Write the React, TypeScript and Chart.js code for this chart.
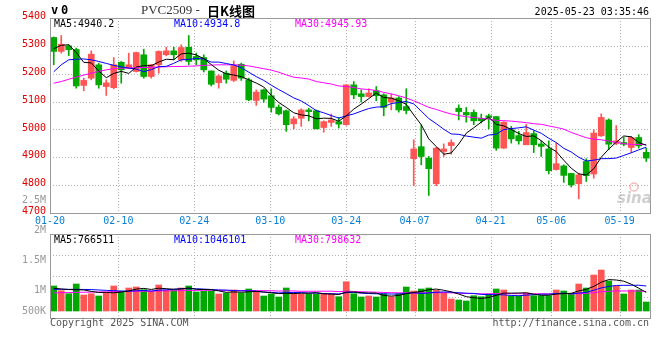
import { useEffect, useRef } from 'react';
import { Chart, registerables } from 'chart.js';

Chart.register(...registerables);

// ---------------- data ----------------
const dates = [
  '01-20','01-21','01-22','01-23','01-24','01-27','02-05','02-06','02-07','02-10',
  '02-11','02-12','02-13','02-14','02-17','02-18','02-19','02-20','02-21','02-24',
  '02-25','02-26','02-27','02-28','03-03','03-04','03-05','03-06','03-07','03-10',
  '03-11','03-12','03-13','03-14','03-17','03-18','03-19','03-20','03-21','03-24',
  '03-25','03-26','03-27','03-28','03-31','04-01','04-02','04-03','04-07','04-08',
  '04-09','04-10','04-11','04-14','04-15','04-16','04-17','04-18','04-21','04-22',
  '04-23','04-24','04-25','04-28','04-29','04-30','05-06','05-07','05-08','05-09',
  '05-12','05-13','05-14','05-15','05-16','05-19','05-20','05-21','05-22','05-23',
];

const opens = [
  5330, 5280, 5300, 5287, 5158, 5184, 5232, 5154, 5150, 5241,
  5220, 5208, 5268, 5190, 5232, 5268, 5282, 5250, 5295, 5262,
  5258, 5210, 5168, 5202, 5176, 5234, 5178, 5104, 5142, 5121,
  5080, 5067, 5020, 5040, 5070, 5067, 5007, 5025, 5028, 5017,
  5160, 5128, 5118, 5139, 5124, 5098, 5113, 5082, 4895, 4938,
  4897, 4805, 4921, 4942, 5076, 5061, 5061, 5040, 5049, 5046,
  4933, 4999, 4978, 4945, 4985, 4948, 4930, 4856, 4869, 4842,
  4805, 4885, 4840, 4977, 5034, 4950, 4953, 4935, 4971, 4918,
];
const highs = [
  5332, 5337, 5304, 5292, 5184, 5282, 5238, 5178, 5258, 5244,
  5274, 5278, 5288, 5234, 5282, 5295, 5295, 5304, 5337, 5274,
  5268, 5210, 5196, 5210, 5246, 5238, 5184, 5142, 5145, 5146,
  5088, 5070, 5046, 5074, 5076, 5070, 5031, 5055, 5043, 5160,
  5172, 5142, 5146, 5154, 5128, 5127, 5118, 5146, 4963, 5017,
  4903, 4936, 4948, 4963, 5088, 5079, 5070, 5055, 5055, 5046,
  5028, 5011, 4993, 5019, 4995, 4959, 4959, 4951, 4873, 4843,
  4843, 4895, 4999, 5056, 5038, 5014, 4972, 4975, 4981, 4933,
];
const lows = [
  5232, 5274, 5265, 5148, 5139, 5178, 5148, 5122, 5146, 5166,
  5218, 5206, 5184, 5184, 5202, 5264, 5250, 5244, 5232, 5232,
  5206, 5156, 5148, 5166, 5172, 5176, 5103, 5086, 5098, 5062,
  5052, 4993, 5002, 5011, 5031, 5002, 4990, 5011, 5005, 5015,
  5110, 5098, 5116, 5103, 5049, 5070, 5062, 5056, 4798, 4873,
  4763, 4798, 4903, 4911, 5034, 5026, 5017, 5023, 5002, 4925,
  4931, 4951, 4947, 4945, 4917, 4903, 4840, 4854, 4810, 4793,
  4751, 4813, 4825, 4975, 4927, 4945, 4941, 4917, 4933, 4885,
];
const closes = [
  5280, 5306, 5286, 5156, 5176, 5270, 5160, 5167, 5232, 5214,
  5232, 5276, 5190, 5232, 5280, 5282, 5268, 5294, 5244, 5250,
  5214, 5162, 5192, 5180, 5229, 5184, 5106, 5134, 5109, 5079,
  5056, 5017, 5038, 5070, 5064, 5002, 5028, 5034, 5019, 5160,
  5124, 5118, 5131, 5121, 5079, 5113, 5070, 5068, 4930, 4903,
  4859, 4933, 4930, 4953, 5064, 5052, 5031, 5031, 5043, 4933,
  5026, 4966, 4959, 4989, 4945, 4939, 4852, 4877, 4835, 4801,
  4837, 4834, 4987, 5043, 4947, 4959, 4947, 4971, 4941, 4897,
];
const volumes = [
  1025000, 832000, 709000, 1107000, 656000, 709000, 615000, 726000, 1025000, 808000,
  943000, 984000, 873000, 808000, 1066000, 849000, 849000, 943000, 1025000, 779000,
  808000, 808000, 697000, 738000, 861000, 738000, 902000, 779000, 615000, 697000,
  574000, 943000, 738000, 697000, 697000, 697000, 697000, 697000, 586000, 1201000,
  709000, 574000, 615000, 574000, 709000, 586000, 709000, 984000, 820000, 902000,
  943000, 849000, 738000, 492000, 451000, 410000, 627000, 586000, 697000, 902000,
  861000, 615000, 615000, 738000, 627000, 627000, 627000, 861000, 820000, 697000,
  1107000, 943000, 1476000, 1681000, 1230000, 1025000, 697000, 861000, 861000, 369000,
];

// moving-average values before enough visible bars exist
const ma5Lead = [5290, 5302, 5304, 5276];
const ma10Lead = [5207, 5232, 5250, 5252, 5253, 5250, 5244, 5237, 5230];
const ma30Lead = [
  5166, 5172, 5180, 5188, 5195, 5202, 5208, 5214, 5218, 5220,
  5221, 5222, 5222, 5223, 5224, 5225, 5226, 5226, 5227, 5228,
  5230, 5231, 5232, 5232, 5232, 5231, 5228, 5223, 5218,
];
const vol5Lead = [930000, 905000, 880000, 868000];
const vol10Lead = [890000, 890000, 888000, 886000, 884000, 878000, 862000, 846000, 832000];
const vol30Lead = [
  740000, 750000, 756000, 764000, 770000, 776000, 781000, 786000, 791000, 796000,
  801000, 806000, 811000, 816000, 821000, 826000, 830000, 835000, 840000, 845000,
  849000, 851000, 849000, 846000, 843000, 840000, 838000, 836000, 834000,
];

const priceTicks = [5400, 5300, 5200, 5100, 5000, 4900, 4800, 4700];
const dateTickLabels = ['01-20', '02-10', '02-24', '03-10', '03-24', '04-07', '04-21', '05-06', '05-19'];
const volTickLabels = ['2.5M', '2M', '1.5M', '1M', '500K'];
const volTickValues = [2500000, 2000000, 1500000, 1000000, 500000];
const priceLegend = ['MA5:4940.2', 'MA10:4934.8', 'MA30:4945.93'];
const volLegend = ['MA5:766511', 'MA10:1046101', 'MA30:798632'];
const titleCode = 'PVC2509 - ';
const titleName = '日K线图';
const stampText = '2025-05-23 03:35:46';
const copyrightText = 'Copyright 2025 SINA.COM';
const urlText = 'http://finance.sina.com.cn';

// ---------------- styles / layout ----------------
const UP = '#ff5555';
const DOWN = '#00a800';
const C_MA5 = '#000000';
const C_MA10 = '#0000ff';
const C_MA30 = '#ff00ff';
const GRID = '#b0b0b0';
const FRAME = '#999999';
const MONO = '10px "DejaVu Sans Mono", "Liberation Mono", monospace';

const PX = { left: 50, right: 650, top: 18, priceBottom: 213, volTop: 234, bottom: 318, volBase: 311 };
const PRICE_MIN = 4700;
const PRICE_MAX = 5400;
const VOL_PER_PX = 41000;
const VOL_LABEL_PER_PX = 1000000 / 60; // label axis
const VOL_LABEL_1M_PX = 290.7;

const N = dates.length;

function movingAvg(values: number[], period: number, lead: number[]) {
  return values.map((_, i) => {
    if (i < period - 1) return lead[i];
    let s = 0;
    for (let k = i - period + 1; k <= i; k++) s += values[k];
    return s / period;
  });
}

const ma5 = movingAvg(closes, 5, ma5Lead);
const ma10 = movingAvg(closes, 10, ma10Lead);
const ma30 = movingAvg(closes, 30, ma30Lead);
const vma5 = movingAvg(volumes, 5, vol5Lead);
const vma10 = movingAvg(volumes, 10, vol10Lead);
const vma30 = movingAvg(volumes, 30, vol30Lead);

const isUp = closes.map((c, i) => c >= opens[i]);
const candleColors = isUp.map((u) => (u ? UP : DOWN));

// grid columns are spaced over N-1 intervals of the plot width
const gridValue = (i: number) => (i * N) / (N - 1) - 0.5;

function hline(ctx: any, x1: number, x2: number, y: number) {
  ctx.beginPath();
  ctx.moveTo(x1, y);
  ctx.lineTo(x2, y);
  ctx.stroke();
}
function vline(ctx: any, x: number, y1: number, y2: number) {
  ctx.beginPath();
  ctx.moveTo(x, y1);
  ctx.lineTo(x, y2);
  ctx.stroke();
}

const layoutPlugin = {
  id: 'sinaLayout',
  beforeDatasetsDraw(chart: any) {
    const { ctx } = chart;
    const xs = chart.scales.x;
    const ys = chart.scales.y;
    const top = ys.getPixelForValue(PRICE_MAX);
    const pb = ys.getPixelForValue(PRICE_MIN);
    ctx.save();
    ctx.strokeStyle = GRID;
    ctx.lineWidth = 1;
    ctx.setLineDash([1, 2]);
    priceTicks.slice(1, -1).forEach((p) => {
      const y = Math.round(ys.getPixelForValue(p)) + 0.5;
      hline(ctx, PX.left, PX.right, y);
    });
    dateTickLabels.forEach((d) => {
      const i = dates.indexOf(d);
      if (i <= 0) return;
      const x = Math.round(xs.getPixelForValue(gridValue(i))) + 0.5;
      vline(ctx, x, top, pb);
      vline(ctx, x, PX.volTop, PX.bottom);
    });
    for (let k = 1; k < 4; k++) {
      const y = Math.round(PX.volTop + ((PX.bottom - PX.volTop) * k) / 4) + 0.5;
      hline(ctx, PX.left, PX.right, y);
    }
    ctx.restore();
  },
  afterDatasetsDraw(chart: any) {
    const { ctx } = chart;
    const xs = chart.scales.x;
    const ys = chart.scales.y;
    const yl = chart.scales.yl;
    const top = ys.getPixelForValue(PRICE_MAX);
    const pb = ys.getPixelForValue(PRICE_MIN);
    ctx.save();
    // frames
    ctx.strokeStyle = FRAME;
    ctx.lineWidth = 1;
    ctx.setLineDash([]);
    ctx.strokeRect(PX.left + 0.5, Math.round(top) + 0.5, PX.right - PX.left, Math.round(pb - top));
    ctx.strokeRect(PX.left + 0.5, PX.volTop + 0.5, PX.right - PX.left, PX.bottom - PX.volTop);

    ctx.font = MONO;
    ctx.textBaseline = 'middle';

    // price labels
    ctx.fillStyle = '#e00000';
    ctx.textAlign = 'right';
    priceTicks.forEach((p) => {
      ctx.fillText(String(p), 46, ys.getPixelForValue(p) - 1.5);
    });
    // volume labels
    ctx.fillStyle = '#999999';
    volTickValues.forEach((v, k) => {
      const y = Math.min(yl.getPixelForValue(v), PX.volBase);
      ctx.fillText(volTickLabels[k], 46, y);
    });
    // date labels
    ctx.fillStyle = '#0a7fd6';
    ctx.textAlign = 'center';
    dateTickLabels.forEach((d) => {
      const i = dates.indexOf(d);
      ctx.fillText(d, xs.getPixelForValue(gridValue(i)), pb + 8.5);
    });

    // legends
    ctx.textAlign = 'left';
    const legendX = [54, 174, 295];
    const legendC = [C_MA5, C_MA10, C_MA30];
    priceLegend.forEach((t, k) => {
      ctx.fillStyle = legendC[k];
      ctx.fillText(t, legendX[k], top + 6);
    });
    volLegend.forEach((t, k) => {
      ctx.fillStyle = legendC[k];
      ctx.fillText(t, legendX[k], PX.volTop + 6);
    });

    // header
    ctx.fillStyle = '#000';
    ctx.font = 'bold 12px "DejaVu Sans Mono", monospace';
    ctx.fillText('v', 51, 11);
    ctx.fillText('0', 61, 11);
    ctx.font = '13px "Liberation Serif", serif';
    ctx.fillStyle = '#333';
    ctx.fillText(titleCode, 141, 11);
    const w = ctx.measureText(titleCode).width;
    ctx.font = 'bold 13px "Noto Sans CJK SC", sans-serif';
    ctx.fillStyle = '#000';
    ctx.fillText(titleName, 141 + w + 4, 11);
    ctx.font = MONO;
    ctx.textAlign = 'right';
    ctx.fillText(stampText, 649, 12);

    // footer
    ctx.fillStyle = '#555';
    ctx.textAlign = 'left';
    ctx.fillText(copyrightText, 50, 323);
    ctx.textAlign = 'right';
    ctx.fillText(urlText, 649, 323);

    // watermark
    ctx.textAlign = 'left';
    ctx.fillStyle = 'rgba(175,175,175,0.6)';
    ctx.font = 'italic bold 15px "DejaVu Sans", sans-serif';
    ctx.fillText('sina', 617, 199);
    ctx.strokeStyle = 'rgba(235,130,130,0.55)';
    ctx.lineWidth = 1.5;
    ctx.beginPath();
    ctx.arc(634, 187, 4, 0, Math.PI * 2);
    ctx.stroke();
    ctx.restore();
  },
};

function lineDs(data: number[], color: string, axis: string) {
  return {
    type: 'line' as const,
    data: data.map((v, i) => ({ x: i, y: v })),
    borderColor: color,
    borderWidth: 1,
    pointRadius: 0,
    tension: 0,
    fill: false,
    yAxisID: axis,
    order: 0,
  };
}

export default function App() {
  const ref = useRef<HTMLCanvasElement | null>(null);

  useEffect(() => {
    if (!ref.current) return;
    const area = PX.bottom - PX.top;
    const pricePerPx = (PRICE_MAX - PRICE_MIN) / (PX.priceBottom - PX.top);
    const yMin = PRICE_MAX - area * pricePerPx;
    const vMin = -(PX.bottom - PX.volBase) * VOL_PER_PX;
    const vMax = (PX.volBase - PX.top) * VOL_PER_PX;
    const lZeroPx = VOL_LABEL_1M_PX + 1000000 / VOL_LABEL_PER_PX;
    const lMin = (lZeroPx - PX.bottom) * VOL_LABEL_PER_PX;
    const lMax = (lZeroPx - PX.top) * VOL_LABEL_PER_PX;

    const chart = new Chart(ref.current, {
      type: 'bar',
      data: {
        datasets: [
          lineDs(ma5, C_MA5, 'y'),
          lineDs(ma10, C_MA10, 'y'),
          lineDs(ma30, C_MA30, 'y'),
          lineDs(vma5, C_MA5, 'yv'),
          lineDs(vma10, C_MA10, 'yv'),
          lineDs(vma30, C_MA30, 'yv'),
          {
            type: 'bar' as const,
            data: opens.map((o, i) => ({ x: i, y: [o, closes[i]] })),
            backgroundColor: candleColors,
            barThickness: 6,
            minBarLength: 1,
            grouped: false,
            yAxisID: 'y',
            order: 1,
          },
          {
            type: 'bar' as const,
            data: lows.map((l, i) => ({ x: i, y: [l, highs[i]] })),
            backgroundColor: candleColors,
            barThickness: 1,
            grouped: false,
            yAxisID: 'y',
            order: 2,
          },
          {
            type: 'bar' as const,
            data: volumes.map((v, i) => ({ x: i, y: v })),
            backgroundColor: candleColors,
            barThickness: 6,
            grouped: false,
            yAxisID: 'yv',
            order: 3,
          },
        ] as any,
      },
      options: {
        animation: false,
        responsive: false,
        maintainAspectRatio: false,
        devicePixelRatio: 1,
        events: [],
        layout: {
          padding: { left: PX.left, right: 660 - PX.right, top: PX.top, bottom: 360 - PX.bottom },
        },
        plugins: { legend: { display: false }, tooltip: { enabled: false } },
        scales: {
          x: { type: 'linear', min: -0.5, max: N - 0.5, display: false, offset: false },
          y: { type: 'linear', min: yMin, max: PRICE_MAX, display: false },
          yv: { type: 'linear', min: vMin, max: vMax, display: false },
          yl: { type: 'linear', min: lMin, max: lMax, display: false },
        },
      } as any,
      plugins: [layoutPlugin],
    });
    return () => chart.destroy();
  }, []);

  return (
    <div style={{ position: 'fixed', left: 0, top: 0, width: 660, height: 360, background: '#ffffff' }}>
      <canvas ref={ref} width={660} height={360} style={{ display: 'block', width: 660, height: 360 }} />
    </div>
  );
}
